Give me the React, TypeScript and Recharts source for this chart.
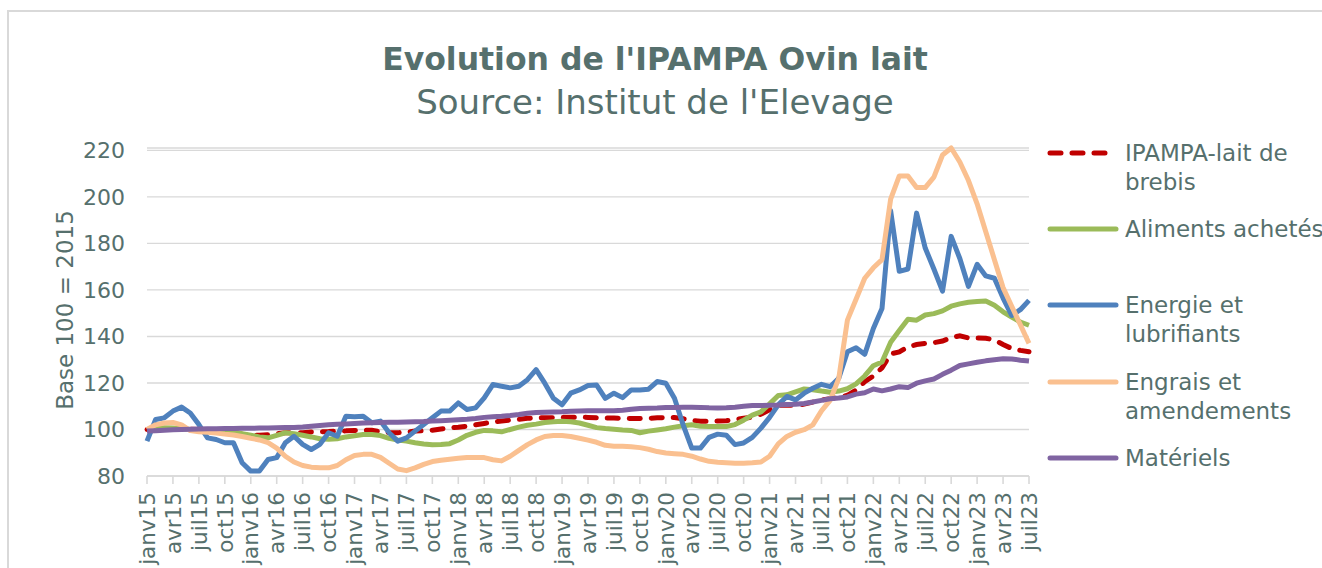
import { LineChart, Line, XAxis, YAxis, CartesianGrid, Legend } from "recharts";

// month labels janv15 .. juil23
const monthNames = ["janv", "févr", "mars", "avr", "mai", "juin", "juil", "août", "sept", "oct", "nov", "déc"];
const years = ["15", "16", "17", "18", "19", "20", "21", "22", "23"];
const categories = years.flatMap((y) => monthNames.map((m) => m + y)).slice(0, 103);

const yTicks = [80, 100, 120, 140, 160, 180, 200, 220];

const ipampa = [
  100, 100.1, 100.2, 100.3, 100.3, 100.1, 100, 99.8, 99.6, 99.3, 98.8, 98,
  97.6, 97.5, 97.7, 98.2, 98.6, 98.6, 98.6, 98.9, 99, 99.1, 99.3, 99.4,
  99.6, 99.7, 99.7, 99, 98.6, 98.6, 98.9, 99.3, 99.5, 99.7, 100.2, 100.7,
  101, 101.4, 102, 102.6, 103.2, 103.6, 104, 104.4, 104.8, 105, 105, 105.1,
  105.2, 105.3, 105.3, 105.2, 105, 104.9, 104.9, 104.8, 104.7, 104.7, 104.8, 105,
  105.1, 105.1, 104.6, 103.9, 103.5, 103.5, 103.6, 103.8, 104.3, 104.8, 105.3, 106.6,
  108.5, 110.4, 110.5, 110.3, 110.9, 111.8, 112.7, 113.2, 113.8, 114.7, 117, 120.5,
  123, 126.5, 132.5, 133.3, 135.5, 136.5, 137, 137.3, 138, 139.5, 140.3, 139.3,
  139.3, 139.2, 138.5, 136.5, 134.8, 134, 133.4,
];

const aliments = [
  100, 100.5, 100.7, 100.6, 100.3, 100, 100, 99.8, 99.5, 99.2, 98.8, 98.2,
  97.5, 96.8, 96.4, 97.5, 98.6, 98.2, 97.5, 96.8, 96, 95.8, 96, 96.8,
  97.3, 97.8, 97.8, 97.4, 96.2, 95.5, 95, 94.3, 93.8, 93.4, 93.5, 93.9,
  95.5, 97.5, 98.8, 99.6, 99.4, 99, 100, 101, 101.8, 102.3, 103, 103.3,
  103.5, 103.3, 102.8, 101.8, 100.8, 100.4, 100.1, 99.8, 99.6, 98.6, 99.3, 99.8,
  100.3, 101, 101.6, 102, 101.4, 101.3, 101.3, 101.3, 102.1, 104, 106.2, 107.6,
  111, 114.6, 114.9, 116.2, 117.4, 117.1, 116.5, 116, 116.5, 117.5, 119.6, 123,
  127.4, 129, 137.5, 142.5, 147.4, 147, 149.2, 149.8, 151, 153, 154, 154.7,
  155, 155.2, 153.4, 150.6, 148.3, 146.2, 144.8,
];

const energie = [
  95, 104.3, 105, 107.9, 109.6, 107.1, 102.1, 96.4, 95.7, 94.3, 94.3, 85.7,
  82.1, 82.1, 87.1, 87.9, 94.3, 97.1, 93.6, 91.4, 93.6, 98.6, 97.1, 105.7,
  105.5, 105.7, 102.9, 103.6, 98.6, 95, 96.4, 99.3, 102.1, 105, 107.9, 107.9,
  111.4, 108.6, 109.3, 113.6, 119.3, 118.6, 117.9, 118.6, 121.4, 125.7, 119.9, 113.4,
  110.6, 115.6, 117, 118.9, 119.1, 113.4, 115.6, 113.7, 117, 117, 117.3, 120.6,
  119.9, 113.4, 102, 92, 92, 96.6, 98, 97.5, 93.5, 94.2, 96.6, 100.6,
  105.2, 110.6, 114.2, 112.7, 115.6, 117.7, 119.4, 118.4, 122, 133.4, 135.1, 132.3,
  143.4, 152, 194, 168, 169, 193, 178, 169, 159.5, 183, 173.5, 161.5,
  171, 166, 165, 156.5, 149, 151.5, 155.5,
];

const engrais = [
  100, 102, 102.8, 103, 102, 99.5, 99, 98.8, 98.5, 98, 97.6, 97,
  96.2, 95.5, 94.3, 92, 88.5, 86, 84.5, 83.8, 83.5, 83.5, 84.5, 87,
  88.8, 89.3, 89.3, 88, 85.5, 83, 82.3, 83.5, 85, 86.2, 86.8, 87.2,
  87.6, 88, 88, 87.9, 87, 86.5, 88.5, 91, 93.5, 95.5, 97, 97.4,
  97.4, 97, 96.2, 95.4, 94.5, 93.2, 92.8, 92.8, 92.6, 92.2, 91.5, 90.5,
  89.9, 89.6, 89.3, 88.5, 87.3, 86.3, 85.9, 85.7, 85.5, 85.5, 85.7, 86,
  88.5, 93.8, 97, 98.8, 99.9, 102, 108, 112.5, 122, 147, 156, 165,
  169.5, 173, 199, 209, 209, 204, 204, 208.5, 218, 221, 215, 207,
  197, 185, 173, 161, 153, 145, 137,
];

const materiels = [
  99.3, 99.5, 99.7, 99.9, 100, 100.1, 100.2, 100.3, 100.3, 100.4, 100.4, 100.5,
  100.5, 100.6, 100.6, 100.7, 100.8, 100.9, 101.1, 101.4, 101.7, 102, 102.2, 102.4,
  102.6, 102.8, 102.9, 103, 103.1, 103.1, 103.2, 103.3, 103.4, 103.6, 103.8, 104,
  104.2, 104.4, 104.7, 105.2, 105.5, 105.7, 106, 106.4, 107, 107.3, 107.4, 107.5,
  107.6, 107.8, 107.9, 108, 108, 108, 108, 108.3, 108.7, 109, 109.1, 109.2,
  109.4, 109.5, 109.6, 109.6, 109.5, 109.3, 109.2, 109.3, 109.6, 110, 110.3, 110.3,
  110.4, 110.5, 110.7, 110.8, 111.2, 111.8, 112.5, 113.2, 113.5, 114, 115.2, 115.8,
  117.4, 116.6, 117.4, 118.4, 118, 119.9, 120.9, 121.7, 123.7, 125.5, 127.5, 128.2,
  128.9, 129.5, 130, 130.4, 130.3, 129.8, 129.4,
];

const seriesNames = [
  "IPAMPA-lait de brebis",
  "Aliments achetés",
  "Energie et lubrifiants",
  "Engrais et amendements",
  "Matériels",
];

// legend labels, wrapped as in the original
const legendLines: Record<string, string[]> = {
  "IPAMPA-lait de brebis": ["IPAMPA-lait de", "brebis"],
  "Aliments achetés": ["Aliments achetés"],
  "Energie et lubrifiants": ["Energie et", "lubrifiants"],
  "Engrais et amendements": ["Engrais et", "amendements"],
  "Matériels": ["Matériels"],
};
const legendRowY = [23, 99, 175, 252, 328];

const data = categories.map((month, i) => ({
  month,
  ipampa: ipampa[i],
  aliments: aliments[i],
  energie: energie[i],
  engrais: engrais[i],
  materiels: materiels[i],
}));

const FONT = "'DejaVu Sans', sans-serif";
const TEXT = "#56706d";
const GRID = "#d9d9d9";
const LW = 5;

const XTick = (props: any) => {
  const { x, y, payload } = props;
  return (
    <text
      x={x}
      y={y}
      transform={`rotate(-90 ${x} ${y})`}
      textAnchor="end"
      dy="0.36em"
      fontSize={21.5}
      fontFamily={FONT}
      fill={TEXT}
    >
      {payload.value}
    </text>
  );
};

const LegendBox = (props: any) => {
  const payload = [...(props.payload || [])].sort(
    (a: any, b: any) => seriesNames.indexOf(a.value) - seriesNames.indexOf(b.value)
  );
  return (
    <svg width={282} height={360} style={{ overflow: "visible", display: "block" }}>
      {payload.map((entry: any, i: number) => {
        const y = legendRowY[i];
        const lines = legendLines[entry.value] || [entry.value];
        const dash = entry.payload && entry.payload.strokeDasharray;
        return (
          <g key={entry.value}>
            <line
              x1={10}
              x2={76}
              y1={y}
              y2={y}
              stroke={entry.color}
              strokeWidth={LW}
              strokeLinecap="round"
              strokeDasharray={dash}
            />
            {lines.map((t, k) => (
              <text
                key={t}
                x={85}
                y={y + k * 29}
                dy="0.36em"
                fontSize={23}
                fontFamily={FONT}
                fill={TEXT}
              >
                {t}
              </text>
            ))}
          </g>
        );
      })}
    </svg>
  );
};

export default function App() {
  return (
    <div>
      <div
        style={{
          position: "absolute",
          left: 7,
          top: 10,
          width: 1315,
          height: 558,
          borderLeft: `2px solid ${GRID}`,
          borderTop: `2px solid ${GRID}`,
          boxSizing: "border-box",
        }}
      />
      <div style={{ position: "absolute", left: 0, top: 0 }}>
        <LineChart
          width={1322}
          height={568}
          data={data}
          margin={{ top: 148, right: 11, bottom: 0, left: 87 }}
        >
          <CartesianGrid vertical={false} stroke={GRID} strokeWidth={1.4} />
          <XAxis
            dataKey="month"
            interval={2}
            height={92}
            stroke={GRID}
            strokeWidth={1.6}
            tickSize={8}
            tickMargin={8}
            tick={<XTick />}
          />
          <YAxis
            domain={[80, 220]}
            ticks={yTicks}
            width={60}
            axisLine={false}
            tickLine={false}
            tickSize={0}
            tickMargin={22}
            tick={{ fontSize: 22, fontFamily: FONT, fill: TEXT }}
          />
          <Legend
            layout="vertical"
            align="right"
            verticalAlign="middle"
            content={<LegendBox />}
            wrapperStyle={{ position: "absolute", left: 1040, top: 130, width: 282, height: 360 }}
          />
          <Line
            name={seriesNames[0]}
            dataKey="ipampa"
            stroke="#c00000"
            strokeWidth={LW}
            strokeDasharray="11 11"
            strokeLinecap="round"
            dot={false}
            isAnimationActive={false}
          />
          <Line
            name={seriesNames[1]}
            dataKey="aliments"
            stroke="#9bbb59"
            strokeWidth={LW}
            strokeLinejoin="round"
            dot={false}
            isAnimationActive={false}
          />
          <Line
            name={seriesNames[2]}
            dataKey="energie"
            stroke="#4f81bd"
            strokeWidth={LW}
            strokeLinejoin="round"
            dot={false}
            isAnimationActive={false}
          />
          <Line
            name={seriesNames[3]}
            dataKey="engrais"
            stroke="#fac090"
            strokeWidth={LW}
            strokeLinejoin="round"
            dot={false}
            isAnimationActive={false}
          />
          <Line
            name={seriesNames[4]}
            dataKey="materiels"
            stroke="#8064a2"
            strokeWidth={LW}
            strokeLinejoin="round"
            dot={false}
            isAnimationActive={false}
          />
        </LineChart>
      </div>
      <svg
        width={1322}
        height={568}
        style={{ position: "absolute", left: 0, top: 0, pointerEvents: "none" }}
      >
        <text x={655} y={70} textAnchor="middle" fontSize={31.5} fontWeight="bold" fontFamily={FONT} fill={TEXT}>
          Evolution de l'IPAMPA Ovin lait
        </text>
        <text x={655} y={114} textAnchor="middle" fontSize={34} fontFamily={FONT} fill={TEXT}>
          Source: Institut de l'Elevage
        </text>
        <text
          x={65}
          y={310}
          transform="rotate(-90 65 310)"
          textAnchor="middle"
          dy="0.36em"
          fontSize={23}
          fontFamily={FONT}
          fill={TEXT}
        >
          Base 100 = 2015
        </text>
      </svg>
    </div>
  );
}
